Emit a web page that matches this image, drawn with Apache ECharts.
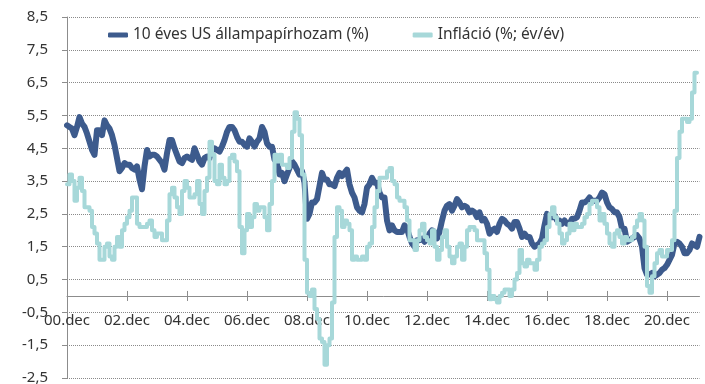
<!DOCTYPE html>
<html>
<head>
<meta charset="utf-8">
<script src="https://cdn.jsdelivr.net/npm/echarts@6/dist/echarts.min.js"></script>
<style>
  html, body { margin: 0; padding: 0; background: #fff; }
  #chart { width: 705px; height: 384px; }
</style>
</head>
<body>
<div id="chart"></div>
<script>
// Monthly observations, December 2000 to January 2022
const startYear = 2000;
const startMonth = 12;
const monthCount = 254;

// Tick labels, one every two years at December
const tickLabels = ['00.dec', '02.dec', '04.dec', '06.dec', '08.dec', '10.dec',
                    '12.dec', '14.dec', '16.dec', '18.dec', '20.dec'];
const tickStep = 24;

// 10-year US Treasury yield (%), monthly
const yield10y = [
  5.2,
  5.15, 5.1, 4.9, 5.15, 5.45, 5.25, 5.15, 4.95, 4.7, 4.45, 4.3, 5.05,
  5.05, 4.9, 5.35, 5.2, 5.1, 4.9, 4.6, 4.2, 3.8, 3.9, 4.05, 4.0,
  4.0, 3.9, 3.85, 3.95, 3.55, 3.25, 3.95, 4.45, 4.25, 4.3, 4.3, 4.25,
  4.15, 4.05, 3.85, 4.35, 4.75, 4.75, 4.5, 4.3, 4.1, 4.05, 4.2, 4.25,
  4.2, 4.15, 4.5, 4.3, 4.1, 4.0, 4.2, 4.25, 4.2, 4.45, 4.5, 4.45,
  4.4, 4.55, 4.75, 5.0, 5.15, 5.15, 5.05, 4.85, 4.7, 4.7, 4.6, 4.55,
  4.8, 4.7, 4.55, 4.7, 4.8, 5.15, 5.0, 4.65, 4.55, 4.55, 4.15, 4.1,
  3.7, 3.75, 3.5, 3.7, 3.9, 4.1, 4.0, 3.85, 3.7, 3.8, 3.45, 2.35,
  2.5, 2.85, 2.85, 2.95, 3.35, 3.75, 3.55, 3.55, 3.4, 3.4, 3.35, 3.6,
  3.75, 3.65, 3.75, 3.85, 3.4, 3.15, 3.0, 2.7, 2.6, 2.55, 2.8, 3.3,
  3.4, 3.6, 3.45, 3.45, 3.15, 3.0, 3.0, 2.3, 2.0, 2.15, 2.0, 1.95,
  1.95, 1.95, 2.15, 2.05, 1.8, 1.6, 1.5, 1.7, 1.7, 1.75, 1.65, 1.75,
  1.9, 2.0, 1.95, 1.75, 1.95, 2.3, 2.6, 2.75, 2.8, 2.6, 2.75, 2.95,
  2.85, 2.7, 2.75, 2.7, 2.55, 2.6, 2.55, 2.4, 2.55, 2.3, 2.35, 2.2,
  1.9, 2.0, 2.05, 1.95, 2.2, 2.35, 2.3, 2.2, 2.15, 2.05, 2.25, 2.25,
  2.05, 1.8, 1.9, 1.8, 1.8, 1.6, 1.5, 1.55, 1.6, 1.75, 2.15, 2.5,
  2.45, 2.4, 2.45, 2.3, 2.3, 2.2, 2.3, 2.2, 2.2, 2.35, 2.35, 2.4,
  2.6, 2.85, 2.85, 2.9, 3.0, 2.9, 2.9, 2.9, 3.0, 3.15, 3.1, 2.85,
  2.7, 2.65, 2.55, 2.55, 2.4, 2.05, 2.05, 1.65, 1.7, 1.75, 1.8, 1.85,
  1.75, 1.5, 0.85, 0.65, 0.65, 0.7, 0.6, 0.65, 0.7, 0.8, 0.85, 0.95,
  1.1, 1.25, 1.6, 1.65, 1.6, 1.5, 1.3, 1.3, 1.4, 1.6, 1.55, 1.5,
  1.8
];

// Consumer price inflation (%, year on year), monthly
const inflation = [
  3.4,
  3.7, 3.5, 2.9, 3.3, 3.6, 3.2, 2.7, 2.7, 2.6, 2.1, 1.9, 1.6,
  1.1, 1.1, 1.5, 1.6, 1.2, 1.1, 1.5, 1.8, 1.5, 2.0, 2.2, 2.4,
  2.6, 3.0, 3.0, 2.2, 2.1, 2.1, 2.1, 2.2, 2.3, 2.0, 1.8, 1.9,
  1.9, 1.7, 1.7, 2.3, 3.1, 3.3, 3.0, 2.7, 2.5, 3.2, 3.5, 3.3,
  3.0, 3.0, 3.1, 3.5, 2.8, 2.5, 3.2, 3.6, 4.7, 4.3, 3.5, 3.4,
  4.0, 3.6, 3.4, 3.5, 4.2, 4.3, 4.1, 3.8, 2.1, 1.3, 2.0, 2.5,
  2.1, 2.4, 2.8, 2.6, 2.7, 2.7, 2.4, 2.0, 2.8, 3.5, 4.3, 4.1,
  4.3, 4.0, 4.0, 3.9, 4.2, 5.0, 5.6, 5.4, 4.9, 3.7, 1.1, 0.1,
  0.0, 0.2, -0.4, -0.7, -1.3, -1.4, -2.1, -1.5, -1.3, -0.2, 1.8, 2.7,
  2.6, 2.1, 2.3, 2.2, 2.0, 1.1, 1.2, 1.1, 1.1, 1.2, 1.1, 1.5,
  1.6, 2.1, 2.7, 3.2, 3.6, 3.6, 3.6, 3.8, 3.9, 3.5, 3.4, 3.0,
  2.9, 2.9, 2.7, 2.3, 1.7, 1.7, 1.4, 1.7, 2.0, 2.2, 1.8, 1.7,
  1.6, 2.0, 1.5, 1.1, 1.4, 1.8, 2.0, 1.5, 1.2, 1.0, 1.2, 1.5,
  1.6, 1.1, 1.5, 2.0, 2.1, 2.1, 2.0, 1.7, 1.7, 1.7, 1.3, 0.8,
  -0.1, 0.0, -0.1, -0.2, 0.0, 0.1, 0.2, 0.2, 0.0, 0.2, 0.5, 0.7,
  1.4, 1.0, 0.9, 1.1, 1.0, 1.0, 0.8, 1.1, 1.5, 1.6, 1.7, 2.1,
  2.5, 2.7, 2.4, 2.2, 1.9, 1.6, 1.7, 1.9, 2.2, 2.0, 2.2, 2.1,
  2.1, 2.2, 2.4, 2.5, 2.8, 2.9, 2.9, 2.7, 2.3, 2.5, 2.2, 1.9,
  1.6, 1.5, 1.9, 2.0, 1.8, 1.6, 1.8, 1.7, 1.7, 1.8, 2.1, 2.3,
  2.5, 2.3, 1.5, 0.3, 0.1, 0.6, 1.0, 1.3, 1.4, 1.2, 1.2, 1.4,
  1.4, 1.7, 2.6, 4.2, 5.0, 5.4, 5.4, 5.3, 5.4, 6.2, 6.8, 6.8
];

const seriesNames = ['10 éves US állampapírhozam (%)', 'Infláció (%; év/év)'];

// Month keys for the category axis
const months = [];
for (let i = 0; i < monthCount; i++) {
  const total = startYear * 12 + (startMonth - 1) + i;
  const y = Math.floor(total / 12);
  const m = total % 12 + 1;
  months.push(y + '-' + (m < 10 ? '0' + m : m));
}

const FONT = '"Noto Sans", "Open Sans", sans-serif';
const showTick = (idx) => idx % tickStep === 0;

// Value range of the vertical axis and where the date axis crosses it
const yMin = -2.5, yMax = 8.5, crossAt = 0;
const gridTop = 17, gridBottom = 6, chartHeight = 384;
const plotHeight = chartHeight - gridTop - gridBottom;
// Shift the date axis up from the bottom edge to the crossing value
const axisShift = -plotHeight * (crossAt - yMin) / (yMax - yMin);

const chart = echarts.init(document.getElementById('chart'), null, { renderer: 'canvas' });
chart.setOption({
  animation: false,
  backgroundColor: '#ffffff',
  grid: { left: 67, right: 5.5, top: gridTop, bottom: gridBottom, containLabel: false, outerBoundsMode: 'none' },
  legend: {
    left: 108,
    top: 27,
    padding: 0,
    itemGap: 44,
    itemWidth: 20,
    itemHeight: 5,
    icon: 'roundRect',
    textStyle: { fontFamily: FONT, fontSize: 15.5, color: '#333333' },
    data: seriesNames
  },
  xAxis: [
    {
      type: 'category',
      data: months,
      boundaryGap: false,
      position: 'bottom',
      offset: axisShift,
      axisLine: { onZero: false, lineStyle: { color: '#8c8c8c', width: 1 } },
      axisTick: { show: true, length: 5, interval: showTick, lineStyle: { color: '#8c8c8c' } },
      axisLabel: {
        interval: showTick,
        margin: 17,
        fontFamily: FONT,
        fontSize: 15,
        color: '#333333',
        formatter: (val, idx) => tickLabels[Math.round(idx / tickStep)] || ''
      },
      splitLine: { show: false }
    },
    {
      type: 'category',
      data: months,
      boundaryGap: false,
      position: 'bottom',
      offset: axisShift,
      axisLine: { show: false, onZero: false },
      axisTick: { show: true, inside: true, length: 5, interval: showTick, lineStyle: { color: '#8c8c8c' } },
      axisLabel: { show: false },
      splitLine: { show: false }
    }
  ],
  yAxis: {
    type: 'value',
    min: yMin,
    max: yMax,
    interval: 1,
    axisLine: { show: true, lineStyle: { color: '#8c8c8c', width: 1 } },
    axisTick: { show: true, length: 5, lineStyle: { color: '#8c8c8c' } },
    axisLabel: {
      margin: 19,
      fontFamily: FONT,
      fontSize: 15,
      color: '#333333',
      formatter: (v) => v.toFixed(1).replace('.', ',')
    },
    splitLine: { show: true, lineStyle: { color: '#8a8a8a', type: 'dotted', width: 1 } }
  },
  series: [
    {
      name: seriesNames[0],
      type: 'line',
      xAxisIndex: 0,
      data: yield10y,
      symbol: 'none',
      color: '#3d5b8d',
      lineStyle: { width: 6, color: '#3d5b8d', cap: 'round', join: 'round' }
    },
    {
      name: seriesNames[1],
      type: 'line',
      xAxisIndex: 0,
      data: inflation,
      step: 'end',
      symbol: 'none',
      color: '#a7d8d9',
      lineStyle: { width: 4, color: '#a7d8d9', cap: 'round', join: 'round' }
    }
  ]
});
</script>
</body>
</html>
